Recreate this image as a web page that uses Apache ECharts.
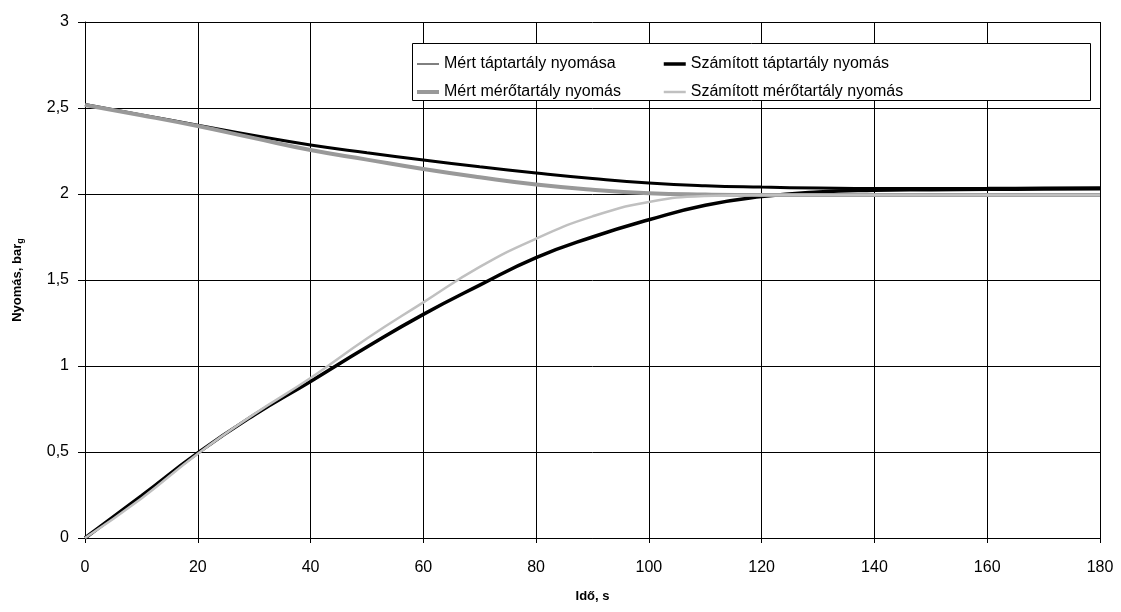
<!DOCTYPE html>
<html>
<head>
<meta charset="utf-8">
<script src="https://cdn.jsdelivr.net/npm/echarts@6/dist/echarts.min.js"></script>
<style>
html,body{margin:0;padding:0;background:#fff;}
#chart{width:1121px;height:612px;}
</style>
</head>
<body>
<div id="chart"></div>
<script>
const times = [0,10,20,30,40,50,60,70,80,90,100,110,120,130,140,150,160,170,180];
const mertTaptartaly = [2.52,2.46,2.40,2.34,2.285,2.24,2.198,2.158,2.122,2.09,2.064,2.048,2.040,2.035,2.032,2.032,2.033,2.035,2.037];
const szamitottTaptartaly = [0,0.245,0.495,0.715,0.91,1.11,1.30,1.47,1.63,1.75,1.85,1.935,1.985,2.012,2.022,2.025,2.027,2.029,2.030];
const mertMerotartaly = [2.517,2.458,2.395,2.325,2.256,2.20,2.145,2.097,2.055,2.025,2.005,1.997,1.994,1.994,1.994,1.994,1.994,1.994,1.994];
const szamitottMerotartaly = [0,0.23,0.49,0.72,0.93,1.16,1.37,1.576,1.74,1.87,1.953,1.988,1.994,1.994,1.994,1.994,1.994,1.994,1.994];
const seriesNames = ['Mért táptartály nyomása','Számított táptartály nyomás','Mért mérőtartály nyomás','Számított mérőtartály nyomás'];
const xTicks = [0,20,40,60,80,100,120,140,160,180];
const yTicks = ['0','0,5','1','1,5','2','2,5','3'];

const pairs = arr => times.map((t,i)=>[t,arr[i]]);
const font = 'Liberation Sans, Arial, sans-serif';

const chart = echarts.init(document.getElementById('chart'), null, {renderer:'canvas'});
const mkSeries = (name, data, color, width) => ({
  name, type:'line', data: pairs(data), symbol:'none', showSymbol:false, smooth:true,
  lineStyle:{color, width}, itemStyle:{color}, animation:false
});
const hidden = {color:'rgba(0,0,0,0)', borderWidth:0, borderColor:'rgba(0,0,0,0)'};
const legendCommon = {
  orient:'vertical', top:55, padding:0, itemWidth:22, itemHeight:14, itemGap:10,
  textStyle:{fontFamily:font, fontSize:16, color:'#000', lineHeight:18}, z:5, selectedMode:false
};
chart.setOption({
  animation:false,
  backgroundColor:'#fff',
  grid:{left:85, right:21, top:22, bottom:74, show:false},
  graphic:[{type:'rect', left:412, top:43, z:3, shape:{width:678, height:57}, style:{fill:'#fff', stroke:'#000', lineWidth:1}}],
  legend:[
    Object.assign({}, legendCommon, {left:415, data:[
      {name:seriesNames[0], itemStyle:hidden, lineStyle:{width:1, color:'#000'}},
      {name:seriesNames[2], itemStyle:hidden, lineStyle:{width:4, color:'#999'}}
    ]}),
    Object.assign({}, legendCommon, {left:662, data:[
      {name:seriesNames[1], itemStyle:hidden, lineStyle:{width:3.5, color:'#000'}},
      {name:seriesNames[3], itemStyle:hidden, lineStyle:{width:2.5, color:'#c0c0c0'}}
    ]})
  ],
  xAxis:{
    type:'value', min:0, max:180, interval:20,
    name:'Idő, s', nameLocation:'middle', nameGap:52,
    nameTextStyle:{fontFamily:font, fontSize:13, fontWeight:'bold', color:'#000'},
    axisLine:{lineStyle:{color:'#000', width:1}},
    axisTick:{show:true, length:5, lineStyle:{color:'#000'}},
    axisLabel:{fontFamily:font, fontSize:16, color:'#000', margin:22,
      formatter: v => String(v)},
    splitLine:{show:true, lineStyle:{color:'#000', width:1}}
  },
  yAxis:{
    type:'value', min:0, max:3, interval:0.5,
    name:'{a|Nyomás, bar}{b|g}', nameLocation:'middle', nameGap:60,
    nameTextStyle:{rich:{
      a:{fontFamily:font, fontSize:13, fontWeight:'bold', color:'#000'},
      b:{fontFamily:font, fontSize:9, fontWeight:'bold', color:'#000', verticalAlign:'bottom', padding:[6,0,0,0]}
    }},
    axisLine:{show:true, lineStyle:{color:'#000', width:1}},
    axisTick:{show:true, length:7, lineStyle:{color:'#000'}},
    axisLabel:{fontFamily:font, fontSize:16, color:'#000', margin:16,
      formatter: v => yTicks[Math.round(v*2)]},
    splitLine:{show:true, lineStyle:{color:'#000', width:1}}
  },
  series:[
    mkSeries(seriesNames[0], mertTaptartaly, '#000', 3),
    mkSeries(seriesNames[1], szamitottTaptartaly, '#000', 3.5),
    mkSeries(seriesNames[2], mertMerotartaly, '#999', 4),
    mkSeries(seriesNames[3], szamitottMerotartaly, '#c0c0c0', 2.5)
  ]
});
</script>
</body>
</html>
